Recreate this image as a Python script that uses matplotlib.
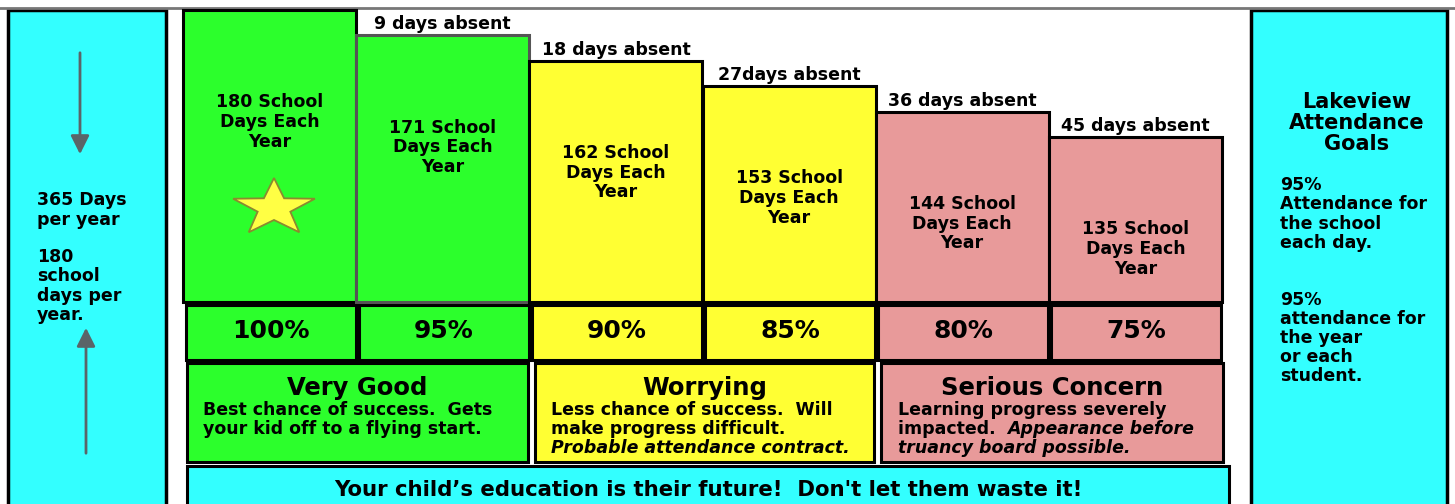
import matplotlib.pyplot as plt
import numpy as np

plt.rcParams['font.family'] = ['DejaVu Sans']

school_days = [180, 171, 162, 153, 144, 135]
days_absent = [0, 9, 18, 27, 36, 45]
attendance = [100, 95, 90, 85, 80, 75]
bar_groups = [0, 0, 1, 1, 2, 2]

categories = ["Very Good", "Worrying", "Serious Concern"]
descriptions = [
    [("Best chance of success.  Gets", "normal"),
     ("your kid off to a flying start.", "normal")],
    [("Less chance of success.  Will", "normal"),
     ("make progress difficult.", "normal"),
     ("Probable attendance contract.", "italic")],
    [("Learning progress severely", "normal"),
     ("impacted.  ", "normal"),
     ("truancy board possible.", "italic")],
]
group_colors = ["#2cff2c", "#ffff33", "#e89a9a"]
cyan = "#33ffff"

left_text_1 = "365 Days\nper year"
left_text_2 = "180\nschool\ndays per\nyear."
goals_title = "Lakeview\nAttendance\nGoals"
goal_1 = "95%\nAttendance for\nthe school\neach day."
goal_2 = "95%\nattendance for\nthe year\nor each\nstudent."
footer = "Your child\u2019s education is their future!  Don't let them waste it!"

W, H = 1455, 504
fig = plt.figure(figsize=(W / 100, H / 100), dpi=100)
ax = fig.add_axes([0, 0, 1, 1])
ax.set_xlim(0, W)
ax.set_ylim(H, 0)
ax.axis('off')

# top rule
ax.plot([0, W], [8, 8], color="#777777", lw=2)

# side panels
ax.add_patch(plt.Rectangle((8, 10), 158, 500, fc=cyan, ec="black", lw=2.5))
ax.add_patch(plt.Rectangle((1251, 10), 196, 500, fc=cyan, ec="black", lw=2.5))

ax.annotate('', xy=(80, 157), xytext=(80, 50),
            arrowprops=dict(arrowstyle='-|>', color="#5a6468", lw=2, mutation_scale=28))
ax.annotate('', xy=(86, 325), xytext=(86, 456),
            arrowprops=dict(arrowstyle='-|>', color="#5a6468", lw=2, mutation_scale=28))
ax.text(37, 210, left_text_1, fontsize=12.5, fontweight='bold', va='center',
        ha='left', linespacing=1.08)
ax.text(37, 286, left_text_2, fontsize=12.5, fontweight='bold', va='center',
        ha='left', linespacing=1.08)

ax.text(1357, 123, goals_title, fontsize=15, fontweight='bold', va='center',
        ha='center', linespacing=1.05)
ax.text(1280, 214, goal_1, fontsize=12.5, fontweight='bold', va='center',
        ha='left', linespacing=1.08)
ax.text(1280, 338, goal_2, fontsize=12.5, fontweight='bold', va='center',
        ha='left', linespacing=1.08)

# bars of school days
base = 76.5
bx = fig.add_axes([183 / W, (H - 302) / H, (1222 - 183) / W, 292 / H])
bx.set_xlim(-0.5, len(school_days) - 0.5)
bx.set_ylim(base, 180)
bx.axis('off')
x = np.arange(len(school_days))
cols = [group_colors[g] for g in bar_groups]
edges = ["black", "#555555", "black", "black", "black", "black"]
bx.bar(x, np.array(school_days) - base, bottom=base, width=1.0, color=cols,
       edgecolor=edges, lw=2.2, clip_on=False)
for i, d in enumerate(school_days):
    bx.annotate(f"{d} School\nDays Each\nYear", xy=(i, d), xytext=(0, -112),
                textcoords='offset pixels', ha='center', va='center',
                fontsize=12.5, fontweight='bold', linespacing=1.12)
    if days_absent[i]:
        sep = " " if i != 3 else ""
        bx.annotate(f"{days_absent[i]}{sep}days absent", xy=(i, d), xytext=(0, 2),
                    textcoords='offset pixels', ha='center', va='bottom',
                    fontsize=12.5, fontweight='bold')

# star in the first bar (pixel coordinates, drawn above the bars)
cx, cy, rx, ry = 274, 208, 43, 30
ang = np.pi / 2 + np.arange(10) * np.pi / 5
rad = np.where(np.arange(10) % 2 == 0, 1.0, 0.40)
star = np.column_stack([cx + rx * rad * np.cos(ang), cy - ry * rad * np.sin(ang)])
bx.add_patch(plt.Polygon(star, closed=True, fc="#ffff44", ec="#8a8a30", lw=1.3,
                         transform=ax.transData, clip_on=False, zorder=5))

# percentage row
px = 186 + np.arange(len(attendance)) * 173.0 + 85
ax.bar(px, 55, bottom=305, width=170, color=cols, edgecolor="black", lw=2.2)
for xi, p in zip(px, attendance):
    ax.text(xi, 331, f"{p}%", fontsize=18, fontweight='bold', ha='center', va='center')

# category row
cat_left = [187, 535, 881]
cat_width = [341, 339, 342]
body_x = [203, 551, 898]
for k, name in enumerate(categories):
    ax.add_patch(plt.Rectangle((cat_left[k], 363), cat_width[k], 99,
                               fc=group_colors[k], ec="black", lw=2.2))
    ax.text(cat_left[k] + cat_width[k] / 2, 388, name, fontsize=17.5, fontweight='bold',
            ha='center', va='center')
    for j, (line, style) in enumerate(descriptions[k]):
        ax.text(body_x[k], 410 + j * 19, line, fontsize=12.5, fontweight='bold',
                style=style, ha='left', va='center')
    if k == 2:
        ax.annotate("Appearance before", xycoords=ax.texts[-2], xy=(1, 0.5),
                    xytext=(0, 0), textcoords='offset pixels', va='center', ha='left',
                    fontsize=12.5, fontweight='bold', style='italic')

# footer
ax.add_patch(plt.Rectangle((187, 466), 1042, 50, fc=cyan, ec="black", lw=2.2))
ax.text(708, 490, footer, fontsize=15.3, fontweight='bold', ha='center', va='center')

fig.savefig("out.png", dpi=100)
